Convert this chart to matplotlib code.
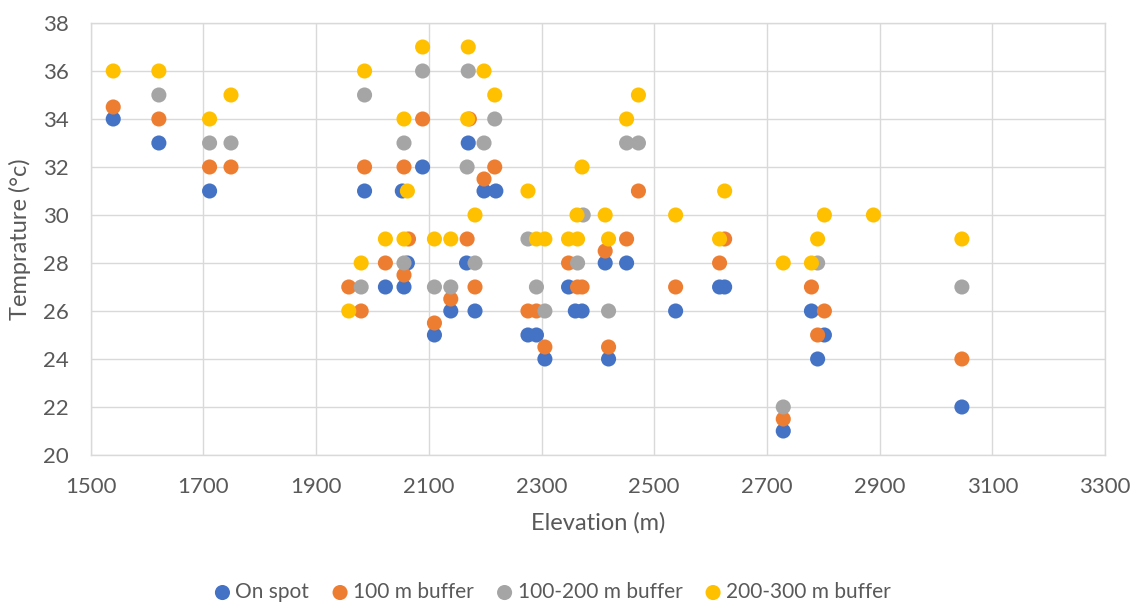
import matplotlib
matplotlib.use('Agg')
import matplotlib.pyplot as plt

# %% data
on_spot_elev = [1540, 1621, 1711, 1986, 2053, 2062, 2056, 2023, 2089, 2110,
                2139, 2170, 2167, 2182, 2198, 2219, 2276, 2291, 2306, 2348,
                2360, 2372, 2413, 2419, 2451, 2538, 2616, 2625, 2729, 2779,
                2790, 2802, 3046]
on_spot_temp = [34, 33, 31, 31, 31, 28, 27, 27, 32, 25,
                26, 33, 28, 26, 31, 31, 25, 25, 24, 27,
                26, 26, 28, 24, 28, 26, 27, 27, 21, 26,
                24, 25, 22]

buf100_elev = [1540, 1621, 1711, 1749, 1958, 1980, 1986, 2023, 2056, 2056,
               2064, 2089, 2110, 2139, 2168, 2172, 2182, 2198, 2217, 2276,
               2291, 2306, 2348, 2364, 2372, 2413, 2419, 2451, 2472, 2538,
               2616, 2625, 2729, 2779, 2790, 2802, 3046]
buf100_temp = [34.5, 34, 32, 32, 27, 26, 32, 28, 32, 27.5,
               29, 34, 25.5, 26.5, 29, 34, 27, 31.5, 32, 26,
               26, 24.5, 28, 27, 27, 28.5, 24.5, 29, 31, 27,
               28, 29, 21.5, 27, 25, 26, 24]

buf200_elev = [1621, 1711, 1749, 1980, 1986, 2056, 2056, 2089, 2110, 2139,
               2168, 2170, 2182, 2198, 2217, 2276, 2291, 2306, 2364, 2374,
               2419, 2451, 2472, 2729, 2790, 3046]
buf200_temp = [35, 33, 33, 27, 35, 33, 28, 36, 27, 27,
               32, 36, 28, 33, 34, 29, 27, 26, 28, 30,
               26, 33, 33, 22, 28, 27]

buf300_elev = [1540, 1621, 1711, 1749, 1958, 1980, 1986, 2023, 2056, 2056,
               2062, 2089, 2110, 2139, 2169, 2170, 2182, 2198, 2217, 2276,
               2291, 2306, 2348, 2364, 2363, 2372, 2413, 2419, 2451, 2472,
               2538, 2616, 2625, 2729, 2779, 2790, 2802, 2889, 3046]
buf300_temp = [36, 36, 34, 35, 26, 28, 36, 29, 34, 29,
               31, 37, 29, 29, 34, 37, 30, 36, 35, 31,
               29, 29, 29, 29, 30, 32, 30, 29, 34, 35,
               30, 29, 31, 28, 28, 29, 30, 30, 29]

labels = ['On spot', '100 m buffer', '100-200 m buffer', '200-300 m buffer']
colors = ['#4472C4', '#ED7D31', '#A5A5A5', '#FFC000']

# %% style
txt = '#595959'
grid_c = '#D9D9D9'
plt.rcParams['font.family'] = ['Lato', 'DejaVu Sans']

fig = plt.figure(figsize=(11.35, 6.02), dpi=100)
ax = fig.add_axes([0.0799, 0.2442, 0.8937, 0.7176])

series = [(on_spot_elev, on_spot_temp), (buf100_elev, buf100_temp),
          (buf200_elev, buf200_temp), (buf300_elev, buf300_temp)]
for (x, y), c, lab in zip(series, colors, labels):
    ax.scatter(x, y, s=118, color=c, edgecolors='none', label=lab, zorder=3)

ax.set_xlim(1500, 3300)
ax.set_ylim(20, 38)
ax.set_xticks(range(1500, 3301, 200))
ax.set_yticks(range(20, 39, 2))
ax.grid(True, color=grid_c, lw=1.0, zorder=0)
ax.set_axisbelow(True)
for sp in ax.spines.values():
    sp.set_color(grid_c)
    sp.set_linewidth(1.0)
ax.tick_params(axis='both', length=0, labelsize=16, labelcolor=txt)
ax.tick_params(axis='x', pad=16)
ax.tick_params(axis='y', pad=16)

ax.set_xlabel('Elevation (m)', fontsize=17, color=txt, labelpad=11)
ax.set_ylabel('Temprature (°c)', fontsize=17, color=txt, labelpad=8)

fig.legend(loc='center', bbox_to_anchor=(0.487, 1 - 592 / 602), ncol=4,
           frameon=False, fontsize=15, labelcolor=txt, handlelength=0.75,
           handletextpad=0.25, columnspacing=1.1, scatterpoints=1)

fig.savefig('out.png', dpi=100)
